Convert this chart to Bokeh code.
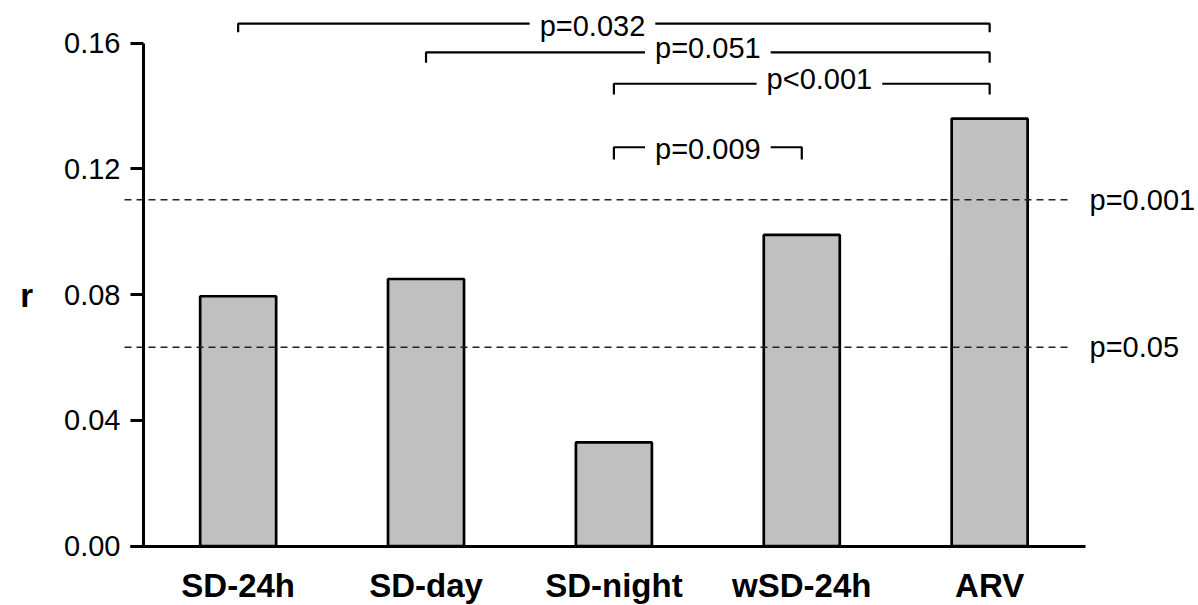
from bokeh.plotting import figure
from bokeh.models import FixedTicker, Range1d, ColumnDataSource
from bokeh.core.properties import value
from bokeh.embed import file_html
from bokeh.resources import INLINE

# ---- data ----
categories = ["SD-24h", "SD-day", "SD-night", "wSD-24h", "ARV"]
r_values = [0.0795, 0.085, 0.033, 0.099, 0.136]

y_ticks = [0.0, 0.04, 0.08, 0.12, 0.16]
y_tick_labels = ["0.00", "0.04", "0.08", "0.12", "0.16"]

threshold_values = [0.1102, 0.0633]
threshold_labels = ["p=0.001", "p=0.05"]

bracket_from = [0, 1, 2, 2]
bracket_to = [4, 4, 4, 3]
bracket_labels = ["p=0.032", "p=0.051", "p<0.001", "p=0.009"]
bracket_heights = [0.1662, 0.1571, 0.1471, 0.1269]

# ---- layout / style ----
FONT = "Liberation Sans"
bracket_drop = [0.0027, 0.0033, 0.0034, 0.0039]
bracket_label_x = [1.886, 2.5, 3.094, 2.5]
bracket_label_dy = [2, -4, -5, 2]

x_idx = list(range(len(categories)))

p = figure(width=1198, height=605,
           x_range=Range1d(-1.26495, 5.11165),
           y_range=Range1d(-0.018863, 0.173582),
           output_backend="svg", toolbar_location=None, tools="",
           min_border=0)
p.background_fill_color = "white"
p.border_fill_color = "white"
p.outline_line_color = None
p.grid.visible = False

# bars
p.vbar(x=x_idx, top=r_values, bottom=0, width=0.4045,
       fill_color="#c0c0c0", line_color="black", line_width=2.7)

# significance thresholds
p.segment(x0=[-0.605] * len(threshold_values), x1=[4.441] * len(threshold_values),
          y0=threshold_values, y1=threshold_values,
          line_color="#222222", line_width=1.5, line_dash="7 5")
p.text(x=[4.5315] * len(threshold_values), y=threshold_values, text=threshold_labels,
       text_align="left", text_baseline="middle", text_color="black",
       text_font=value(FONT), text_font_size=value("29px"))

# comparison brackets
xs = [[a, a, b, b] for a, b in zip(bracket_from, bracket_to)]
ys = [[h - d, h, h, h - d] for h, d in zip(bracket_heights, bracket_drop)]
p.multi_line(xs=xs, ys=ys, line_color="black", line_width=2.2)

src = ColumnDataSource(dict(x=bracket_label_x, y=bracket_heights,
                            text=bracket_labels, dy=bracket_label_dy))
p.text(x="x", y="y", text="text", y_offset="dy", source=src,
       text_align="center", text_baseline="middle", text_color="black",
       text_font=value(FONT), text_font_size=value("29px"),
       background_fill_color="white", padding=dict(x=10, y=0))

# x axis
xa = p.xaxis[0]
xa.fixed_location = 0
xa.ticker = FixedTicker(ticks=x_idx)
xa.major_label_overrides = {i: c for i, c in zip(x_idx, categories)}
xa.bounds = (-0.573, 4.51)
xa.axis_line_width = 3
xa.axis_line_color = "black"
xa.major_tick_out = 0
xa.major_tick_in = 0
xa.major_tick_line_color = None
xa.minor_tick_line_color = None
xa.major_label_text_font = FONT
xa.major_label_text_font_size = "33px"
xa.major_label_text_font_style = "bold"
xa.major_label_text_color = "black"
xa.major_label_standoff = 21

# y axis
ya = p.yaxis[0]
ya.fixed_location = -0.5038
ya.ticker = FixedTicker(ticks=y_ticks)
ya.major_label_overrides = {t: s for t, s in zip(y_ticks, y_tick_labels)}
ya.bounds = (0, 0.16)
ya.axis_line_width = 3
ya.axis_line_color = "black"
ya.major_tick_out = 13
ya.major_tick_in = 0
ya.major_tick_line_width = 3
ya.major_tick_line_color = "black"
ya.minor_tick_line_color = None
ya.major_label_text_font = FONT
ya.major_label_text_font_size = "29px"
ya.major_label_text_color = "black"
ya.major_label_standoff = 10
ya.axis_label = "r"
ya.axis_label_orientation = "horizontal"
ya.axis_label_text_font = FONT
ya.axis_label_text_font_size = "33px"
ya.axis_label_text_font_style = "bold"
ya.axis_label_text_color = "black"
ya.axis_label_standoff = 28

open("out.html", "w").write(file_html(p, INLINE))
